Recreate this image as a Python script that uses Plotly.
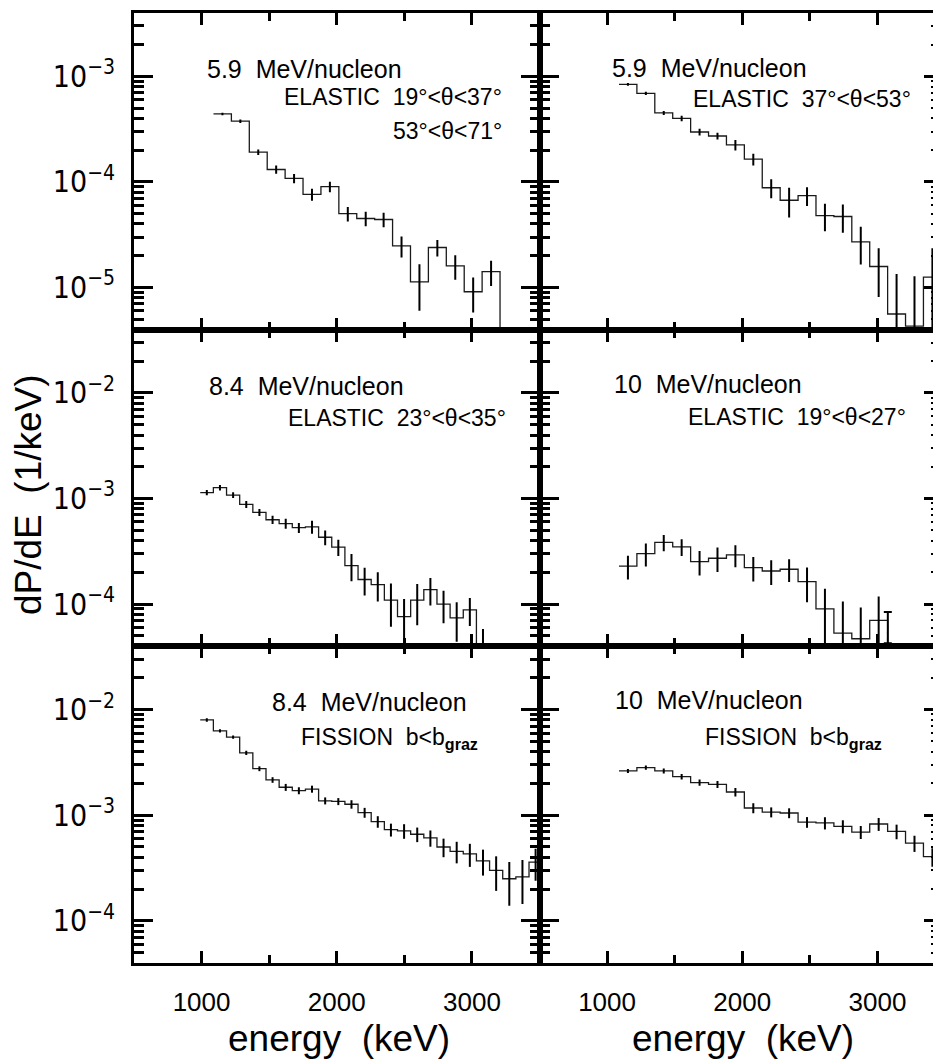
import plotly.graph_objects as go
from plotly.subplots import make_subplots

# ---------------- spectra: first bin edge (keV), bin width (keV), dP/dE (1/keV), error ----------------
# 5.9 MeV/nucleon, elastic 19-37 deg / 53-71 deg
el59a_lo, el59a_w = 1088, 132.5
el59a_val = [4.4e-4, 3.76e-4, 1.91e-4, 1.31e-4, 1.08e-4, 7.6e-5, 9.0e-5, 5.0e-5,
             4.5e-5, 4.4e-5, 2.48e-5, 1.13e-5, 2.39e-5, 1.60e-5, 9.1e-6, 1.41e-5]
el59a_err = [1.3e-5, 1.4e-5, 1.15e-5, 1.18e-5, 1.08e-5, 9.9e-6, 1.04e-5, 7.8e-6,
             7.0e-6, 6.9e-6, 5.6e-6, 5.3e-6, 4.3e-6, 4.2e-6, 3.3e-6, 3.8e-6]

# 5.9 MeV/nucleon, elastic 37-53 deg
el59b_lo, el59b_w = 1088, 132.5
el59b_val = [8.4e-4, 6.9e-4, 4.5e-4, 4.0e-4, 2.97e-4, 2.72e-4, 2.24e-4, 1.64e-4, 8.8e-5,
             6.7e-5, 7.4e-5, 4.8e-5, 4.7e-5, 2.7e-5, 1.58e-5, 5.6e-6, 4.3e-6, 1.25e-5]
el59b_err = [2.5e-5, 2.6e-5, 2.0e-5, 2.4e-5, 2.2e-5, 2.0e-5, 2.6e-5, 2.1e-5, 1.8e-5,
             2.1e-5, 1.5e-5, 1.4e-5, 1.4e-5, 1.05e-5, 7.7e-6, 7.8e-6, 8.5e-6, 1.1e-5]

# 8.4 MeV/nucleon, elastic 23-35 deg
el84_lo, el84_w = 990, 97.3
el84_val = [1.14e-3, 1.27e-3, 1.08e-3, 8.8e-4, 7.4e-4, 6.3e-4, 5.8e-4, 5.3e-4, 5.4e-4,
            4.3e-4, 3.47e-4, 2.32e-4, 1.71e-4, 1.53e-4, 1.09e-4, 7.6e-5, 1.09e-4,
            1.37e-4, 1.0e-4, 7.4e-5, 8.8e-5, 3.2e-5]
el84_err = [6.8e-5, 7.6e-5, 6.5e-5, 6.7e-5, 5.6e-5, 5.7e-5, 6.3e-5, 5.7e-5, 7.6e-5,
            6.8e-5, 6.1e-5, 6.7e-5, 5.0e-5, 4.7e-5, 4.8e-5, 3.6e-5, 4.6e-5,
            4.0e-5, 3.4e-5, 3.0e-5, 2.6e-5, 2.6e-5]

# 10 MeV/nucleon, elastic 19-27 deg
el10_lo, el10_w = 1088, 132.5
el10_val = [2.29e-4, 3.01e-4, 3.84e-4, 3.49e-4, 2.53e-4, 2.72e-4, 2.93e-4, 2.22e-4,
            2.06e-4, 2.14e-4, 1.63e-4, 9.0e-5, 5.3e-5, 4.7e-5, 7.0e-5]
el10_err = [5.8e-5, 7.4e-5, 6.7e-5, 6.3e-5, 6.6e-5, 7.1e-5, 6.9e-5, 5.8e-5,
            5.4e-5, 5.2e-5, 5.9e-5, 5.0e-5, 5.3e-5, 4.6e-5, 4.8e-5]
# isolated capped point past the last bin
el10_cap_e = [3077]
el10_cap_val = [6.0e-5]
el10_cap_up = [2.4e-5]
el10_cap_dn = [1.75e-5]

# 8.4 MeV/nucleon, fission b<b_graz
fi84_lo, fi84_w = 990, 97.3
fi84_val = [8.0e-3, 6.3e-3, 5.5e-3, 3.9e-3, 2.76e-3, 2.16e-3, 1.84e-3, 1.71e-3, 1.77e-3,
            1.37e-3, 1.35e-3, 1.27e-3, 1.06e-3, 8.7e-4, 7.3e-4, 7.1e-4, 6.6e-4, 6.1e-4,
            5.0e-4, 4.55e-4, 4.3e-4, 3.7e-4, 3.0e-4, 2.5e-4, 2.6e-4, 3.6e-4]
fi84_err = [3.0e-4, 2.3e-4, 2.0e-4, 1.75e-4, 1.46e-4, 1.32e-4, 1.4e-4, 1.3e-4, 1.35e-4,
            1.04e-4, 1.03e-4, 1.17e-4, 1.14e-4, 1.09e-4, 1.02e-4, 1.12e-4, 1.04e-4, 1.07e-4,
            1.0e-4, 1.05e-4, 1.06e-4, 1.02e-4, 1.08e-4, 1.11e-4, 1.16e-4, 1.2e-4]

# 10 MeV/nucleon, fission b<b_graz
fi10_lo, fi10_w = 1088, 132.5
fi10_val = [2.63e-3, 2.83e-3, 2.63e-3, 2.32e-3, 2.04e-3, 1.96e-3, 1.66e-3, 1.17e-3, 1.07e-3,
            1.05e-3, 8.6e-4, 8.45e-4, 7.85e-4, 6.93e-4, 8.26e-4, 7.03e-4, 5.44e-4, 4.06e-4]
fi10_err = [1.18e-4, 1.27e-4, 1.39e-4, 1.39e-4, 1.39e-4, 1.49e-4, 1.53e-4, 1.26e-4, 1.16e-4,
            1.13e-4, 1.0e-4, 1.12e-4, 1.11e-4, 9.8e-5, 1.16e-4, 1.11e-4, 9.5e-5, 8.1e-5]

# ---------------- axes ----------------
e_major = [1000, 2000, 3000]
e_minor = [1500, 2500]
e_labels = ["1000", "2000", "3000"]
dec_exp = [-6, -5, -4, -3, -2, -1]
dec_vals = [10.0 ** k for k in dec_exp]
dec_text = ["10<sup>\u2212%d</sup>" % (-k) for k in dec_exp]
minor_vals = [m * 10.0 ** k for k in dec_exp for m in range(2, 10)]

W, H = 933, 1059
ML, MR, MT, MB = 134, 0, 13, 96
PW, PH = W - ML - MR, H - MT - MB
LEFT_W, RIGHT_W = 405.5, 393.5
x_left = [500, 3500]
x_right = [500, 500 + RIGHT_W / LEFT_W * 3000]
y_top = [-5.4, -2.4]
y_low = [-4.4, -1.4]

FONT = "Liberation Sans, Arial, Helvetica, sans-serif"
TICKFONT = "Liberation Sans Narrow, DejaVu Sans Condensed, Liberation Sans, sans-serif"
INK = "black"
FLOOR = 1e-12

fig = make_subplots(rows=3, cols=2, horizontal_spacing=0, vertical_spacing=0,
                    column_widths=[LEFT_W, RIGHT_W])


def add_spectrum(row, col, lo, w, val, err, drop):
    n = len(val)
    edges = [lo + w * i for i in range(n + 1)]
    centers = [lo + w * (i + 0.5) for i in range(n)]
    ys = list(val) + [FLOOR if drop else val[-1]]
    fig.add_trace(go.Scatter(x=edges, y=ys, mode="lines",
                             line=dict(color="#1a1a1a", width=1.3, shape="hv"),
                             hoverinfo="skip", showlegend=False), row=row, col=col)
    fig.add_trace(go.Scatter(x=centers, y=val, mode="markers",
                             marker=dict(size=1, color=INK),
                             error_y=dict(type="data", array=err, width=0,
                                          thickness=2, color=INK),
                             showlegend=False), row=row, col=col)


add_spectrum(1, 1, el59a_lo, el59a_w, el59a_val, el59a_err, True)
add_spectrum(1, 2, el59b_lo, el59b_w, el59b_val, el59b_err, False)
add_spectrum(2, 1, el84_lo, el84_w, el84_val, el84_err, False)
add_spectrum(2, 2, el10_lo, el10_w, el10_val, el10_err, True)
add_spectrum(3, 1, fi84_lo, fi84_w, fi84_val, fi84_err, False)
add_spectrum(3, 2, fi10_lo, fi10_w, fi10_val, fi10_err, False)

fig.add_trace(go.Scatter(x=el10_cap_e, y=el10_cap_val, mode="markers",
                         marker=dict(size=1, color=INK),
                         error_y=dict(type="data", symmetric=False, array=el10_cap_up,
                                      arrayminus=el10_cap_dn, width=4, thickness=2,
                                      color=INK),
                         showlegend=False), row=2, col=2)

for r in (1, 2, 3):
    for c in (1, 2):
        fig.update_xaxes(
            row=r, col=c, range=x_left if c == 1 else x_right,
            tickmode="array", tickvals=e_major, ticktext=e_labels,
            showticklabels=(r == 3), ticks="inside", ticklen=12, tickwidth=2.5,
            tickcolor=INK, showline=True, linewidth=3, linecolor=INK, mirror="ticks",
            showgrid=False, zeroline=False, ticklabelstandoff=14,
            tickfont=dict(family=FONT, size=26, color=INK),
            minor=dict(tickmode="array", tickvals=e_minor, ticks="inside",
                       ticklen=8, tickwidth=2.5, tickcolor=INK, showgrid=False),
        )
        fig.update_yaxes(
            row=r, col=c, type="log", range=y_top if r == 1 else y_low,
            tickmode="array", tickvals=dec_vals, ticktext=dec_text,
            showticklabels=(c == 1), ticks="inside", ticklen=19, tickwidth=2.5,
            tickcolor=INK, showline=True, linewidth=3, linecolor=INK,
            mirror="ticks" if c == 1 else False,
            showgrid=False, zeroline=False, ticklabelstandoff=10,
            tickfont=dict(family=TICKFONT, size=30, color=INK),
            minor=dict(tickmode="array", tickvals=minor_vals, ticks="inside",
                       ticklen=10, tickwidth=2.5, tickcolor=INK, showgrid=False),
        )

# right-hand frame of the right column lies just past the page edge:
# only the tips of its inward ticks show
for k, (xa, ya, yr) in enumerate([("x2", "y2", y_top), ("x4", "y4", y_low),
                                   ("x6", "y6", y_low)]):
    name = "yaxis%d" % (7 + k)
    fig.add_trace(go.Scatter(x=[None], y=[None], xaxis=xa, yaxis="y%d" % (7 + k),
                             showlegend=False, hoverinfo="skip"))
    fig.update_layout(**{name: dict(
        type="log", range=yr, overlaying=ya, anchor=xa, side="right",
        showline=False, showgrid=False, zeroline=False, showticklabels=False,
        tickmode="array", tickvals=dec_vals, ticks="inside", ticklen=9,
        tickwidth=2.5, tickcolor=INK,
        minor=dict(tickmode="array", tickvals=minor_vals, ticks="inside",
                   ticklen=2, tickwidth=2, tickcolor=INK, showgrid=False))})


def px(xp):
    return (xp - ML) / PW


def py(yp):
    return (H - MB - yp) / PH


def label(text, xp, yp, anchor, size=25):
    fig.add_annotation(text=text, x=px(xp), y=py(yp), xref="paper", yref="paper",
                       xanchor=anchor, yanchor="middle", showarrow=False,
                       font=dict(family=FONT, size=size, color=INK))


NB = "\u00a0"
label("5.9" + NB + " MeV/nucleon", 205, 69, "left")
label("ELASTIC" + NB + " 19\u00b0<\u03b8<37\u00b0", 504, 97, "right", 23)
label("53\u00b0<\u03b8<71\u00b0", 504, 131, "right", 23)
label("5.9" + NB + " MeV/nucleon", 610, 68, "left")
label("ELASTIC" + NB + " 37\u00b0<\u03b8<53\u00b0", 913, 99, "right", 23)
label("8.4" + NB + " MeV/nucleon", 207, 386, "left")
label("ELASTIC" + NB + " 23\u00b0<\u03b8<35\u00b0", 508, 418, "right", 23)
label("10" + NB + " MeV/nucleon", 612, 384, "left")
label("ELASTIC" + NB + " 19\u00b0<\u03b8<27\u00b0", 908, 417, "right", 23)
label("8.4" + NB + " MeV/nucleon", 270, 702, "left")
label("FISSION" + NB + " b<b<sub><b>graz</b></sub>", 480, 738, "right", 23)
label("10" + NB + " MeV/nucleon", 613, 700, "left")
label("FISSION" + NB + " b<b<sub><b>graz</b></sub>", 884, 738, "right", 23)

# axis titles
for xc in (339, 743):
    fig.add_annotation(text="energy" + NB + " (keV)", x=px(xc), y=py(1038),
                       xref="paper", yref="paper", xanchor="center", yanchor="middle",
                       showarrow=False, font=dict(family=FONT, size=37, color=INK))
fig.add_annotation(text="dP/dE" + NB + " (1/keV)", x=px(28), y=py(494),
                   xref="paper", yref="paper", xanchor="center", yanchor="middle",
                   textangle=-90, showarrow=False,
                   font=dict(family=FONT, size=37, color=INK))

fig.update_layout(width=W, height=H, margin=dict(l=ML, r=MR, t=MT, b=MB),
                  paper_bgcolor="white", plot_bgcolor="white", showlegend=False)

fig.write_html("out.html")
